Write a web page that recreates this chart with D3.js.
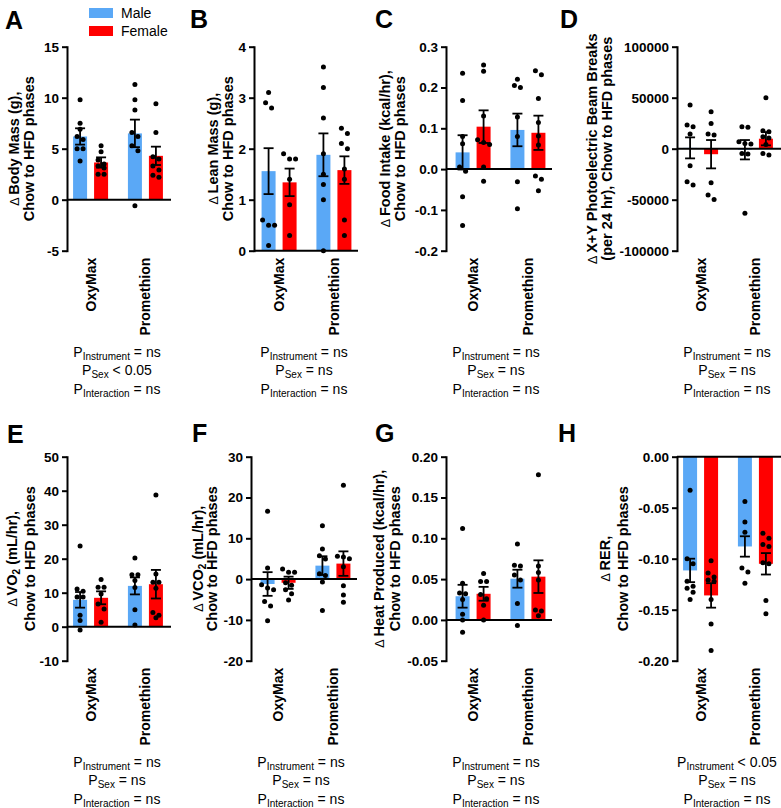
<!DOCTYPE html>
<html><head><meta charset="utf-8">
<script src="https://cdn.jsdelivr.net/npm/d3@7/dist/d3.min.js"></script>
<style>body{margin:0;background:#fff}</style>
</head><body><svg id="c" width="781" height="808"></svg>
<script>
// ---------- DATA ----------
const instruments = ["OxyMax", "Promethion"];
const sexes = ["Male", "Female"];
// order inside each array: OxyMax-Male, OxyMax-Female, Promethion-Male, Promethion-Female

// A: body mass
const massMean = [6.2, 3.65, 6.5, 4.3];
const massSem = [0.8, 0.5, 1.35, 0.9];
const massPoints = [[9.8,7.5,6.9,6.2,5.9,5.0,5.0,3.8],[5.3,4.7,3.9,3.5,3.3,3.1,2.5,2.5],[11.3,9.8,8.8,6.6,6.2,5.3,4.8,-0.6],[9.4,6.6,4.2,4.0,3.3,2.9,2.4,2.2]];
const massTicks = [-5, 0, 5, 10, 15];
const massTickLabels = ["-5","0","5","10","15"];

// B: lean mass
const leanMean = [1.56, 1.34, 1.88, 1.58];
const leanSem = [0.45, 0.27, 0.42, 0.27];
const leanPoints = [[3.1,2.9,2.8,0.6,0.5,0.5,0.1],[1.9,1.8,1.8,1.4,0.9,0.3],[3.6,3.2,2.6,1.9,1.5,1.3,1.0,0.0],[2.4,2.3,2.1,2.0,1.6,1.4,0.6,0.3]];
const leanTicks = [0, 1, 2, 3, 4];
const leanTickLabels = ["0","1","2","3","4"];

// C: food intake
const foodMean = [0.041, 0.104, 0.096, 0.089];
const foodSem = [0.042, 0.04, 0.04, 0.042];
const foodPoints = [[0.235,0.168,0.08,0.062,0.005,-0.005,-0.068,-0.138],[0.255,0.24,0.13,0.072,0.065,0.06,0.005,-0.03],[0.22,0.205,0.2,0.128,0.08,-0.031,-0.097],[0.241,0.231,0.173,0.114,0.081,0.059,-0.017,-0.025,-0.053]];
const foodTicks = [-0.2, -0.1, 0, 0.1, 0.2, 0.3];
const foodTickLabels = ["-0.2","-0.1","0.0","0.1","0.2","0.3"];

// D: beam breaks
const beamMean = [800, -5400, -1000, 9800];
const beamSem = [10300, 13900, 9500, 6500];
const beamPoints = [[42800,23200,21500,14400,-16700,-32400,-35600],[36300,24800,14400,13400,-33300,-45400,-49700],[21600,21000,6900,5200,4600,-4600,-5200,-63400],[50000,17600,16500,11800,10500,4000,-4600,-6200]];
const beamTicks = [-100000, -50000, 0, 50000, 100000];
const beamTickLabels = ["-100000","-50000","0","50000","100000"];

// E: VO2
const vo2Mean = [7.9, 8.5, 12.0, 12.5];
const vo2Sem = [2.3, 1.9, 2.5, 4.2];
const vo2Points = [[23.7,11.1,10.4,8.7,8.7,3.4,1.8,-1.0],[13.9,11.6,11.6,9.6,6.7,5.2,1.3],[20.2,15.3,15.3,13.6,11.5,5.0,0.5],[38.7,15.5,13.1,13.1,11.3,4.2,3.4,2.6]];
const vo2Ticks = [-10, 0, 10, 20, 30, 40, 50];
const vo2TickLabels = ["-10","0","10","20","30","40","50"];

// F: VCO2
const vco2Mean = [-1.2, -0.9, 3.3, 3.8];
const vco2Sem = [2.9, 1.5, 2.3, 3.0];
const vco2Points = [[16.6,2.7,-1.4,-2.2,-2.6,-5.5,-6.6,-10.2],[2.5,1.7,1.7,-0.9,-1.5,-2.6,-3.6,-5.1],[13.1,7.4,5.7,4.9,1.3,0.9,-0.7,-7.7],[23.0,5.6,5.4,5.0,3.0,-1.6,-3.9,-5.7]];
const vco2Ticks = [-20, -10, 0, 10, 20, 30];
const vco2TickLabels = ["-20","-10","0","10","20","30"];

// G: heat produced
const heatMean = [0.029, 0.032, 0.0505, 0.053];
const heatSem = [0.014, 0.0085, 0.011, 0.02];
const heatPoints = [[0.112,0.045,0.033,0.032,0.025,0.007,0.0,-0.015],[0.057,0.047,0.047,0.031,0.026,0.018,0.0],[0.093,0.067,0.066,0.055,0.049,0.02,-0.007],[0.178,0.066,0.058,0.049,0.012,0.011,0.005]];
const heatTicks = [-0.05, 0, 0.05, 0.1, 0.15, 0.2];
const heatTickLabels = ["-0.05","0.00","0.05","0.10","0.15","0.20"];

// H: RER
const rerMean = [-0.1115, -0.136, -0.088, -0.105];
const rerSem = [0.0115, 0.012, 0.01, 0.0105];
const rerPoints = [[-0.033,-0.1,-0.105,-0.122,-0.127,-0.129,-0.133,-0.14],[-0.102,-0.114,-0.118,-0.121,-0.122,-0.14,-0.164,-0.19],[-0.044,-0.064,-0.074,-0.109,-0.113,-0.124],[-0.075,-0.08,-0.086,-0.088,-0.104,-0.105,-0.141,-0.154]];
const rerTicks = [-0.2, -0.15, -0.1, -0.05, 0];
const rerTickLabels = ["-0.20","-0.15","-0.10","-0.05","0.00"];

// statistics text
const pInstrument = ["= ns","= ns","= ns","= ns","= ns","= ns","= ns","< 0.05"];
const pSex = ["< 0.05","= ns","= ns","= ns","= ns","= ns","= ns","= ns"];
const pInteraction = ["= ns","= ns","= ns","= ns","= ns","= ns","= ns","= ns"];

const yTitles = [
  ["Δ Body Mass (g),", "Chow to HFD phases"],
  ["Δ Lean Mass (g),", "Chow to HFD phases"],
  ["Δ Food Intake (kcal/hr),", "Chow to HFD phases"],
  ["Δ X+Y Photoelectric Beam Breaks", "(per 24 hr), Chow to HFD phases"],
  ["Δ VO_2 (mL/hr),", "Chow to HFD phases"],
  ["Δ VCO_2 (mL/hr),", "Chow to HFD phases"],
  ["Δ Heat Produced (kcal/hr),", "Chow to HFD phases"],
  ["Δ RER,", "Chow to HFD phases"]
];
const panelLetters = ["A","B","C","D","E","F","G","H"];

// ---------- LAYOUT ----------
const FONT = "'Liberation Sans', Arial, Helvetica, sans-serif";
const colorScale = d3.scaleOrdinal().domain(sexes).range(["#5AA8F6", "#FF0000"]);
const PH = 204;
const layout = [
  {ax:67,  top:46.7,  w:104, shift:0,   letter:[5,29],    lab:[-48.5,-33.5]},
  {ax:254, top:46.7,  w:104, shift:1.5, letter:[190,28],  lab:[-36,-21]},
  {ax:446, top:46.7,  w:106, shift:3.5, letter:[375,28],  lab:[-56,-41]},
  {ax:677, top:46.7,  w:104, shift:0,   letter:[560,28],  lab:[-80,-65]},
  {ax:67,  top:456.7, w:104, shift:0,   letter:[7,443],   lab:[-50,-32]},
  {ax:251, top:456.7, w:106, shift:3.5, letter:[192,442], lab:[-48,-34]},
  {ax:446, top:456.7, w:106, shift:3.5, letter:[375,442], lab:[-62,-46]},
  {ax:677, top:456.7, w:104, shift:0,   letter:[558,442], lab:[-67,-49]}
];
const dataSets = [
  [massMean, massSem, massPoints, massTicks, massTickLabels],
  [leanMean, leanSem, leanPoints, leanTicks, leanTickLabels],
  [foodMean, foodSem, foodPoints, foodTicks, foodTickLabels],
  [beamMean, beamSem, beamPoints, beamTicks, beamTickLabels],
  [vo2Mean, vo2Sem, vo2Points, vo2Ticks, vo2TickLabels],
  [vco2Mean, vco2Sem, vco2Points, vco2Ticks, vco2TickLabels],
  [heatMean, heatSem, heatPoints, heatTicks, heatTickLabels],
  [rerMean, rerSem, rerPoints, rerTicks, rerTickLabels]
];

const svg = d3.select("#c").style("font-family", FONT);

function addTitleLine(sel, str) {
  let s = str;
  if (s.startsWith("Δ")) {
    sel.append("tspan").attr("font-weight", "normal").attr("font-size", 12.5).text("Δ ");
    s = s.slice(2);
  }
  const parts = s.split("_2");
  parts.forEach((pt, i) => {
    if (i > 0) {
      sel.append("tspan").attr("font-size", 10).attr("dy", 3).text("2");
      sel.append("tspan").attr("dy", -3).text(pt);
    } else {
      sel.append("tspan").text(pt);
    }
  });
}

layout.forEach((L, pi) => {
  const [means, sems, pts, ticks, tickLabels] = dataSets[pi];
  const g = svg.append("g").attr("transform", `translate(${L.ax},${L.top})`);
  const y = d3.scaleLinear().domain(d3.extent(ticks)).range([PH, 0]);
  const x = d3.scalePoint().domain(instruments).range([L.shift, L.shift + 102]).padding(0.43);
  const sx = d3.scaleBand().domain(sexes).range([-17.5, 17.5]).paddingInner(1/3);

  const rows = [];
  instruments.forEach((ins, i) => sexes.forEach((s, j) => {
    const k = i * 2 + j;
    rows.push({ins, s, mean: means[k], sem: sems[k], pts: pts[k]});
  }));

  g.selectAll("rect.bar").data(rows).join("rect").attr("class", "bar")
    .attr("x", d => x(d.ins) + sx(d.s))
    .attr("width", sx.bandwidth())
    .attr("y", d => Math.min(y(d.mean), y(0)))
    .attr("height", d => Math.abs(y(d.mean) - y(0)))
    .attr("fill", d => colorScale(d.s));

  // y axis
  const axis = d3.axisLeft(y).tickValues(ticks).tickFormat((d, i) => tickLabels[i])
    .tickSize(5).tickSizeOuter(0).tickPadding(3);
  const ag = g.append("g").call(axis);
  ag.selectAll("path,line").attr("stroke", "#000").attr("stroke-width", 2);
  ag.select("path").attr("stroke-linecap", "square");
  ag.selectAll("text").attr("font-family", FONT).attr("font-size", 13.5)
    .attr("font-weight", "bold").attr("fill", "#000");

  // zero line
  g.append("line").attr("x1", 0).attr("x2", L.w).attr("y1", y(0)).attr("y2", y(0))
    .attr("stroke", "#000").attr("stroke-width", 2);

  // dots (simple swarm) and error bars
  rows.forEach(d => {
    const cx = x(d.ins) + sx(d.s) + sx.bandwidth() / 2;
    const ys = d.pts.map(v => y(v)).sort((a, b) => a - b);
    const clusters = [];
    ys.forEach(py => {
      const c = clusters[clusters.length - 1];
      if (c && py - c[0] < 5.2) c.push(py); else clusters.push([py]);
    });
    clusters.forEach(c => c.forEach((py, i) => {
      g.append("circle").attr("cx", cx + (i - (c.length - 1) / 2) * 6).attr("cy", py)
        .attr("r", 2.5).attr("fill", "#000");
    }));
    const yt = y(d.mean + d.sem), yb = y(d.mean - d.sem);
    g.append("line").attr("x1", cx).attr("x2", cx).attr("y1", yt).attr("y2", yb)
      .attr("stroke", "#000").attr("stroke-width", 1.8);
    [yt, yb].forEach(yy => g.append("line").attr("x1", cx - 5).attr("x2", cx + 5)
      .attr("y1", yy).attr("y2", yy).attr("stroke", "#000").attr("stroke-width", 1.8));
  });

  // category labels
  instruments.forEach(ins => {
    g.append("text").attr("transform", `translate(${x(ins) + 5},${PH + 7}) rotate(-90)`)
      .attr("text-anchor", "end").attr("font-size", 14).attr("font-weight", "bold")
      .text(ins);
  });

  // y title
  yTitles[pi].forEach((line, li) => {
    const t = g.append("text")
      .attr("transform", `translate(${L.lab[li]},${PH / 2}) rotate(-90)`)
      .attr("text-anchor", "middle").attr("font-size", 14.5).attr("font-weight", "bold");
    addTitleLine(t, line);
  });

  // stats
  const statRows = [["Instrument", pInstrument[pi]], ["Sex", pSex[pi]], ["Interaction", pInteraction[pi]]];
  statRows.forEach((r, ri) => {
    const t = g.append("text").attr("x", 50).attr("y", PH + 106 + ri * 18.5)
      .attr("text-anchor", "middle").attr("font-size", 14);
    t.append("tspan").text("P");
    t.append("tspan").attr("font-size", 10).attr("dy", 3).text(r[0]);
    t.append("tspan").attr("dy", -3).text(" " + r[1]);
  });

  // panel letter
  svg.append("text").attr("x", L.letter[0]).attr("y", L.letter[1])
    .attr("font-size", 25).attr("font-weight", "bold").text(panelLetters[pi]);
});

// legend
const leg = svg.append("g");
sexes.forEach((s, i) => {
  leg.append("rect").attr("x", 89).attr("y", 8 + i * 18).attr("width", 24).attr("height", 10)
    .attr("fill", colorScale(s));
  leg.append("text").attr("x", 121).attr("y", 18 + i * 18.3).attr("font-size", 14).text(s);
});
</script></body></html>
